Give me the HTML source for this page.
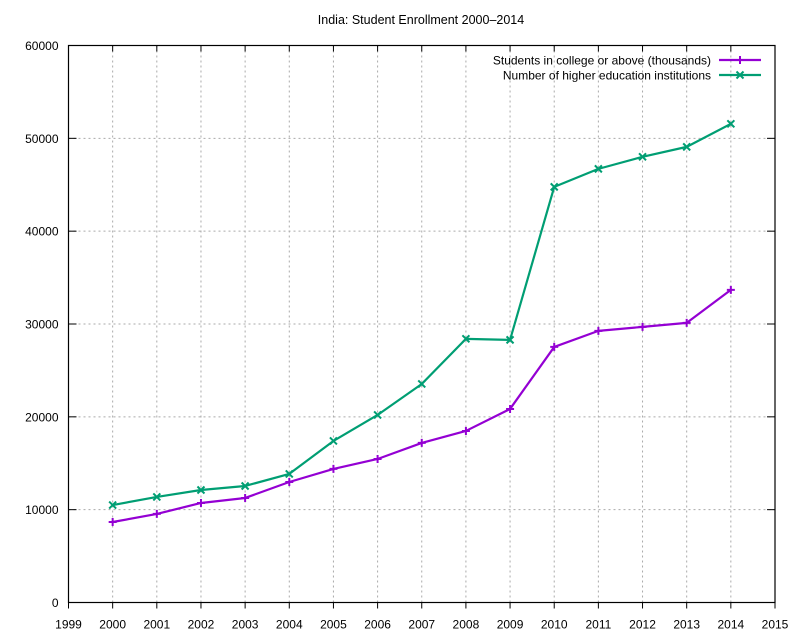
<!DOCTYPE html>
<html><head><meta charset="utf-8"><style>
html,body{margin:0;padding:0;background:#fff;}
svg{display:block;font-family:"Liberation Sans",sans-serif;}
</style></head><body>
<svg id="chart" width="800" height="640" viewBox="0 0 800 640">
<text x="421" y="24" font-size="12.5" text-anchor="middle">India: Student Enrollment 2000–2014</text>
<g id="grid"></g>
<g id="axes"></g>
<g id="series"></g>
<g id="legend"></g>
</svg>
<script>
const years=[2000,2001,2002,2003,2004,2005,2006,2007,2008,2009,2010,2011,2012,2013,2014];
const students=[8670,9540,10720,11260,12980,14390,15460,17190,18480,20850,27530,29260,29690,30120,33680];
const institutions=[10500,11370,12120,12550,13850,17400,20200,23540,28400,28290,44770,46710,48010,49080,51560];
const xTicks=[1999,2000,2001,2002,2003,2004,2005,2006,2007,2008,2009,2010,2011,2012,2013,2014,2015];
const yTicks=[0,10000,20000,30000,40000,50000,60000];
const seriesNames=["Students in college or above (thousands)","Number of higher education institutions"];

const L=68.5,R=775,T=45.5,B=602.5;
const xs=v=>L+(v-1999)/(2015-1999)*(R-L);
const ys=v=>B-v/60000*(B-T);
const NS="http://www.w3.org/2000/svg";
function mk(tag,attrs,parent){const e=document.createElementNS(NS,tag);for(const k in attrs)e.setAttribute(k,attrs[k]);parent.appendChild(e);return e;}
const grid=document.getElementById('grid'),axes=document.getElementById('axes'),ser=document.getElementById('series'),leg=document.getElementById('legend');

yTicks.forEach(v=>{
  const y=ys(v);
  if(v>0&&v<60000){const g=mk('line',{x1:L,x2:R,y1:y,y2:y,stroke:'#aaa','stroke-width':1,'stroke-dasharray':'2,3'},grid);
  
  }
  const t=mk('line',{x1:L,x2:L+8,y1:y,y2:y,stroke:'#000','stroke-width':1},axes);
  
  
  const t2=mk('line',{x1:R,x2:R-8,y1:y,y2:y,stroke:'#000','stroke-width':1},axes);
  
  
  const lb=mk('text',{x:L-10,y:y+4.5,'font-size':12,'text-anchor':'end'},axes);
  lb.textContent=v;
  
  
});
xTicks.forEach(v=>{
  const x=xs(v);
  if(v>1999&&v<2015){const g=mk('line',{x1:x,x2:x,y1:T,y2:B,stroke:'#aaa','stroke-width':1,'stroke-dasharray':'2,3'},grid);
  
  }
  const t=mk('line',{x1:x,x2:x,y1:B,y2:B+6,stroke:'#000','stroke-width':1},axes);
  
  
  const t2=mk('line',{x1:x,x2:x,y1:T,y2:T+6,stroke:'#000','stroke-width':1},axes);
  
  
  const lb=mk('text',{x:x,y:B+26,'font-size':12,'text-anchor':'middle'},axes);
  lb.textContent=v;
  
  
});
const fr=mk('rect',{x:L,y:T,width:R-L,height:B-T,fill:'none',stroke:'#000','stroke-width':1.2},axes);



function plus(x,y,c,p){mk('path',{d:`M${x-4},${y}H${x+4}M${x},${y-4}V${y+4}`,stroke:c,'stroke-width':2},p);}
function cross(x,y,c,p){mk('path',{d:`M${x-3.5},${y-3.5}L${x+3.5},${y+3.5}M${x-3.5},${y+3.5}L${x+3.5},${y-3.5}`,stroke:c,'stroke-width':2},p);}
function drawSeries(vals,color,marker,name){
  const g=mk('g',{},ser);
  
  
  const pts=vals.map((v,i)=>xs(years[i])+','+ys(v)).join(' ');
  mk('polyline',{points:pts,fill:'none',stroke:color,'stroke-width':2.2,'stroke-linejoin':'round'},g);
  vals.forEach((v,i)=>marker(xs(years[i]),ys(v),color,g));
}
drawSeries(institutions,'#009e73',cross,'institutions-series');
drawSeries(students,'#9400d3',plus,'students-series');

[[seriesNames[0],'#9400d3',plus,60],[seriesNames[1],'#009e73',cross,75]].forEach(([n,c,m,y],i)=>{
  const g=mk('g',{},leg);
  
  
  const t=mk('text',{x:711,y:y+4.5,'font-size':12,'text-anchor':'end'},g);
  t.textContent=n;
  mk('line',{x1:719,x2:761,y1:y,y2:y,stroke:c,'stroke-width':2.2},g);
  m(740,y,c,g);
});
</script>
</body></html>
